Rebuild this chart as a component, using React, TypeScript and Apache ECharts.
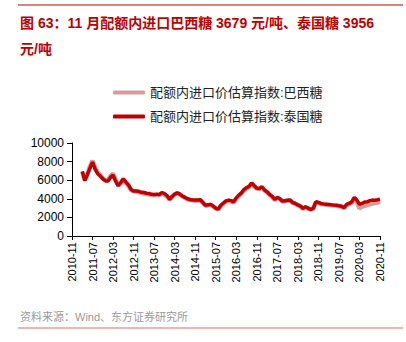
import React, { useEffect, useRef } from "react";
import * as echarts from "echarts";

// month categories 2010-11 .. 2020-11
const startYear = 2010;
const startMonth = 11;
const months: string[] = [];
for (let i = 0; i <= 120; i++) {
  const t = startYear * 12 + (startMonth - 1) + i;
  const y = Math.floor(t / 12);
  const m = (t % 12) + 1;
  months.push(`${y}-${m < 10 ? "0" + m : m}`);
}

const thaiSugar: (number | null)[] = [
  null, null, null, null,
  6950, 5950, 6600, 7300, 7950, 7200, 6700, 6450, 6150, 5950, 5900, 6300,
  6550, 5900, 5400, 5750, 6150, 5800, 5500, 5000, 4850, 4830, 4800, 4700,
  4680, 4600, 4570, 4480, 4460, 4500, 4450, 4680, 4550, 4350, 3950, 4250,
  4500, 4640, 4500, 4300, 4150, 4000, 3930, 3880, 3860, 3880, 3890, 3600,
  3300, 3350, 3400, 3220, 3000, 2900, 3300, 3550, 3780, 3860, 3800, 3680,
  4100, 4400, 4640, 5000, 5180, 5350, 5700, 5400, 5150, 5100, 5290, 4950,
  4750, 4470, 4250, 3930, 4150, 4000, 3750, 3800, 3850, 3860, 3600, 3500,
  3350, 3220, 2970, 3140, 3000, 2860, 2970, 3680, 3600, 3500, 3450, 3420,
  3390, 3350, 3320, 3300, 3250, 3200, 3040, 3390, 3500, 3680, 4150, 3860,
  3390, 3500, 3650, 3680, 3800, 3860, 3850, 3900, 3956,
];

const brazilSugar: (number | null)[] = [
  null, null, null, null,
  6900, 6000, 6700, 7450, 8100, 7350, 6850, 6550, 6200, 5950, 5950, 6450,
  6700, 6000, 5450, 5700, 6050, 5700, 5400, 4950, 4800, 4780, 4720, 4650,
  4600, 4520, 4480, 4400, 4380, 4420, 4380, 4600, 4450, 4250, 3900, 4200,
  4450, 4600, 4480, 4250, 4100, 3950, 3880, 3830, 3800, 3820, 3830, 3550,
  3250, 3300, 3350, 3180, 2950, 2850, 3250, 3480, 3700, 3780, 3720, 3600,
  4000, 4300, 4550, 4900, 5100, 5280, 5650, 5350, 5100, 5050, 5220, 4900,
  4700, 4420, 4200, 3880, 4100, 3950, 3700, 3750, 3800, 3800, 3550, 3450,
  3300, 3180, 2930, 3100, 2950, 2820, 2930, 3620, 3550, 3450, 3400, 3370,
  3340, 3300, 3270, 3250, 3200, 3150, 3000, 3330, 3430, 3600, 4080, 3700,
  2970, 3150, 3250, 3320, 3400, 3500, 3550, 3600, 3679,
];

const yTicks = [0, 2000, 4000, 6000, 8000, 10000];

const FONT = "'Liberation Sans', 'Noto Sans CJK SC', sans-serif";

export default function App() {
  const ref = useRef<HTMLDivElement>(null);
  useEffect(() => {
    if (!ref.current) return;
    const chart = echarts.init(ref.current, null, { renderer: "svg" });
    chart.setOption({
      animation: false,
      backgroundColor: "#ffffff",
      textStyle: { fontFamily: FONT },
      graphic: [
        {
          type: "line",
          shape: { x1: 18, y1: 5, x2: 403, y2: 5 },
          style: { stroke: "#c00000", lineWidth: 1 },
        },
        {
          type: "text",
          left: 20,
          top: 10,
          style: {
            text: "图 63：11 月配额内进口巴西糖 3679 元/吨、泰国糖 3956\n元/吨",
            fill: "#c00000",
            font: `bold 14px ${FONT}`,
            lineHeight: 26,
          },
        },
        {
          type: "text",
          left: 20,
          top: 311,
          style: {
            text: "资料来源：Wind、东方证券研究所",
            fill: "#9a9a9a",
            font: `11px ${FONT}`,
          },
        },
        {
          type: "line",
          shape: { x1: 18, y1: 328, x2: 403, y2: 328 },
          style: { stroke: "#f2b3b3", lineWidth: 2 },
        },
      ],
      legend: {
        orient: "vertical",
        left: 108,
        top: 81,
        itemWidth: 32,
        itemHeight: 4,
        itemGap: 11,
        icon: "roundRect",
        textStyle: { fontSize: 13, color: "#222", fontFamily: FONT },
        data: ["配额内进口价估算指数:巴西糖", "配额内进口价估算指数:泰国糖"],
      },
      grid: { left: 72, right: 26, top: 143, bottom: 106 },
      xAxis: {
        type: "category",
        data: months,
        boundaryGap: false,
        axisLine: { lineStyle: { color: "#000", width: 1 } },
        axisTick: { interval: 7, length: 4, lineStyle: { color: "#000" } },
        axisLabel: {
          interval: 7,
          rotate: 90,
          fontSize: 11,
          color: "#000",
          margin: 6,
          fontFamily: FONT,
        },
        splitLine: { show: false },
      },
      yAxis: {
        type: "value",
        min: 0,
        max: 10000,
        interval: 2000,
        axisLine: { show: true, lineStyle: { color: "#000", width: 1 } },
        axisTick: { show: true, length: 5, lineStyle: { color: "#000" } },
        axisLabel: {
          fontSize: 12,
          color: "#000",
          margin: 8,
          fontFamily: FONT,
          formatter: (v: number) => (yTicks.includes(v) ? String(v) : ""),
        },
        splitLine: { show: false },
      },
      series: [
        {
          name: "配额内进口价估算指数:巴西糖",
          type: "line",
          data: brazilSugar,
          showSymbol: false,
          symbol: "none",
          lineStyle: { color: "#d99a9c", width: 4.5 },
          itemStyle: { color: "#d99a9c" },
          z: 1,
        },
        {
          name: "配额内进口价估算指数:泰国糖",
          type: "line",
          data: thaiSugar,
          showSymbol: false,
          symbol: "none",
          lineStyle: { color: "#c00000", width: 3.5 },
          itemStyle: { color: "#c00000" },
          z: 2,
        },
      ],
    });
    return () => chart.dispose();
  }, []);
  return (
    <div
      ref={ref}
      style={{ position: "fixed", left: 0, top: 0, width: 406, height: 342 }}
    />
  );
}
